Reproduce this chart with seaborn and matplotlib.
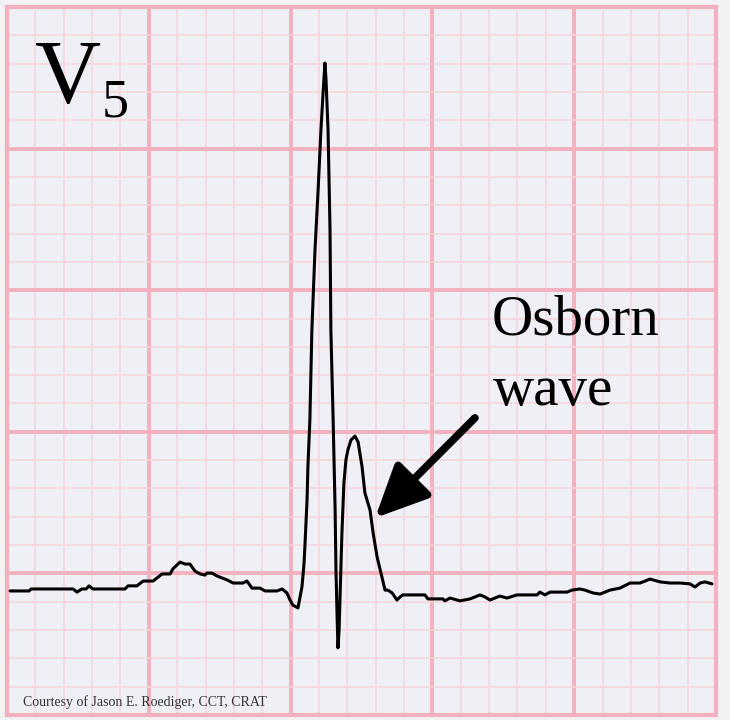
import numpy as np
import pandas as pd
import matplotlib
matplotlib.use("Agg")
import matplotlib.pyplot as plt
import seaborn as sns
from matplotlib.patches import ArrowStyle

# ECG trace, lead V5 (units: small boxes = 1 mm)
time_mm = [0.11, 0.78, 0.85, 2.33, 2.47, 2.64, 2.79, 2.89, 3.03, 4.16,
           4.27, 4.58, 4.80, 5.15, 5.47, 5.75, 5.85, 6.10, 6.28, 6.45,
           6.63, 6.81, 6.98, 7.05, 7.23, 7.40, 7.76, 7.97, 8.32, 8.46,
           8.64, 8.92, 9.10, 9.52, 9.70, 9.87, 9.98, 10.08, 10.26,
           10.40, 10.47, 10.51, 10.58, 10.61, 10.68, 10.75, 10.86, 10.97, 11.07, 11.14, 11.21,
           11.25, 11.32, 11.39, 11.42, 11.50, 11.57, 11.60, 11.64, 11.67,
           11.71, 11.74, 11.81, 11.88, 11.95, 12.02, 12.13, 12.27, 12.38,
           12.52, 12.62, 12.80, 12.91, 13.05, 13.22, 13.33, 13.43, 13.58, 13.75,
           13.86, 13.96, 14.74, 14.84, 15.37, 15.44, 15.62, 15.87, 15.97, 16.33,
           16.68, 16.85, 17.03, 17.38, 17.63, 17.98, 18.69, 18.79, 18.97, 19.15,
           19.75, 19.92, 20.20, 20.38, 20.66, 20.91, 21.26, 21.61, 21.97, 22.32,
           22.50, 22.67, 23.03, 23.38, 23.73, 24.08, 24.26, 24.44, 24.61, 24.86]
amplitude_mm = [4.38, 4.38, 4.45, 4.45, 4.34, 4.45, 4.45, 4.56, 4.45, 4.45,
                4.56, 4.56, 4.73, 4.73, 4.98, 4.98, 5.16, 5.40, 5.33, 5.33,
                5.08, 4.98, 4.94, 5.01, 5.01, 4.91, 4.77, 4.66, 4.66, 4.73,
                4.48, 4.48, 4.38, 4.38, 4.45, 4.31, 4.06, 3.88, 3.78,
                4.52, 5.30, 6.07, 7.59, 8.76, 10.42, 13.59, 16.42, 18.54, 20.66, 21.89, 23.02,
                22.42, 20.66, 17.13, 13.59, 10.42, 7.24, 5.12, 3.46, 2.37,
                3.00, 4.06, 6.43, 8.19, 9.00, 9.36, 9.71, 9.85, 9.64,
                8.76, 7.84, 7.24, 6.43, 5.58, 4.87, 4.41, 4.41, 4.31, 4.06,
                4.17, 4.24, 4.24, 4.10, 4.10, 4.03, 4.13, 4.06, 4.03, 4.10,
                4.24, 4.17, 4.06, 4.20, 4.13, 4.24, 4.24, 4.34, 4.24, 4.34,
                4.34, 4.41, 4.45, 4.41, 4.31, 4.27, 4.41, 4.48, 4.66, 4.66,
                4.73, 4.80, 4.70, 4.66, 4.66, 4.63, 4.52, 4.66, 4.70, 4.63]

lead_label = "V"
lead_sub = "5"
annotation_lines = ["Osborn", "wave"]
credit_text = "Courtesy of Jason E. Roediger, CCT, CRAT"
major_ticks = [0, 5, 10, 15, 20, 25]
minor_ticks = list(range(0, 26))

BG_OUT = "#f2f2f5"
BG_IN = "#eff0f5"
MAJOR = "#f3b0bf"
MINOR = "#f7d4dd"

df = pd.DataFrame({"t": time_mm, "v": amplitude_mm})

sns.set_theme(style="white")
plt.rcParams["font.family"] = ["Liberation Serif", "DejaVu Serif"]

fig = plt.figure(figsize=(7.3, 7.2), dpi=100, facecolor=BG_OUT)
ax = fig.add_axes([7 / 730, 5 / 720, 709 / 730, 708 / 720])
ax.set_facecolor(BG_IN)

ax.set_xlim(0, 25)
ax.set_ylim(0, 25)
ax.set_xticks(major_ticks)
ax.set_yticks(major_ticks)
ax.set_xticks(minor_ticks, minor=True)
ax.set_yticks(minor_ticks, minor=True)
ax.tick_params(which="both", length=0, labelbottom=False, labelleft=False)
ax.grid(which="minor", color=MINOR, linewidth=1.1, zorder=0)
ax.grid(which="major", color=MAJOR, linewidth=2.8, zorder=0)
ax.set_axisbelow(True)
for sp in ax.spines.values():
    sp.set_visible(True)
    sp.set_color(MAJOR)
    sp.set_linewidth(3.0)

sns.lineplot(data=df, x="t", y="v", sort=False, estimator=None,
             color="black", linewidth=2.2, ax=ax, zorder=3,
             solid_joinstyle="round", solid_capstyle="round")
ax.set_xlabel("")
ax.set_ylabel("")

ax.text(0.99, 21.61, lead_label, fontsize=66, color="black",
        ha="left", va="baseline")
ax.text(3.35, 21.15, lead_sub, fontsize=39, color="black",
        ha="left", va="baseline")
ax.text(17.1, 13.42, annotation_lines[0], fontsize=41, color="black",
        ha="left", va="baseline")
ax.text(17.15, 10.95, annotation_lines[1], fontsize=41, color="black",
        ha="left", va="baseline")

arrow_tail = (16.5, 10.49)
arrow_head = (12.98, 6.96)
ax.annotate("", xy=arrow_head, xytext=arrow_tail,
            arrowprops=dict(arrowstyle=ArrowStyle("-|>", head_length=3.2, head_width=1.5),
                            mutation_scale=10, lw=5.5, color="black",
                            shrinkA=0, shrinkB=0), zorder=4)

ax.text(0.56, 0.32, credit_text, fontsize=10, color="#333333",
        ha="left", va="baseline")

fig.savefig("out.png", dpi=100, facecolor=BG_OUT)
